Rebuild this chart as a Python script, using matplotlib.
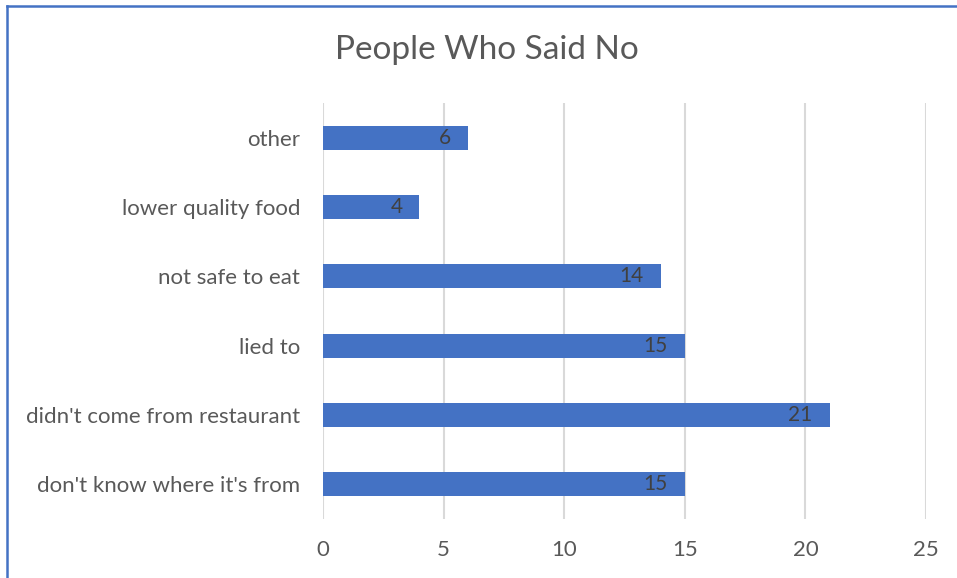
import matplotlib.pyplot as plt
from matplotlib.lines import Line2D

categories = ["don't know where it's from", "didn't come from restaurant",
              "lied to", "not safe to eat", "lower quality food", "other"]
counts = [15, 21, 15, 14, 4, 6]
xticks = [0, 5, 10, 15, 20, 25]

plt.rcParams['font.family'] = ['Lato', 'DejaVu Sans']

W, H = 957, 578
fig = plt.figure(figsize=(W / 100, H / 100), dpi=100)
ax = fig.add_axes([323 / W, 1 - 519 / H, (926 - 323) / W, (519 - 103) / H])

ypos = range(len(categories))
bars = ax.barh(ypos, counts, height=0.35, color='#4472C4', zorder=3)

for b, v in zip(bars, counts):
    ax.text(b.get_width() - 0.7, b.get_y() + b.get_height() / 2, str(v),
            ha='right', va='center', fontsize=15, color='#404040', zorder=4)

ax.set_xlim(0, 25)
ax.set_ylim(-0.5, len(categories) - 0.5)
ax.set_xticks(xticks)
ax.set_yticks(list(ypos))
ax.set_yticklabels(categories)
ax.grid(axis='x', color='#d9d9d9', linewidth=1.5, zorder=0)
ax.tick_params(length=0, labelsize=16, labelcolor='#595959')
ax.tick_params(axis='x', pad=15)
ax.tick_params(axis='y', pad=16.5)
for s in ax.spines.values():
    s.set_visible(False)

fig.text(486.5 / W, 1 - 50 / H, 'People Who Said No', ha='center', va='center',
         fontsize=24, color='#595959')

# frame edges along the left and top
fig.add_artist(Line2D([6.5 / W, 6.5 / W], [0, 1 - 5.5 / H], color='#4472C4', linewidth=1.8))
fig.add_artist(Line2D([6.5 / W, 1], [1 - 5.5 / H, 1 - 5.5 / H], color='#4472C4', linewidth=1.8))

fig.savefig('out.png', dpi=100)
